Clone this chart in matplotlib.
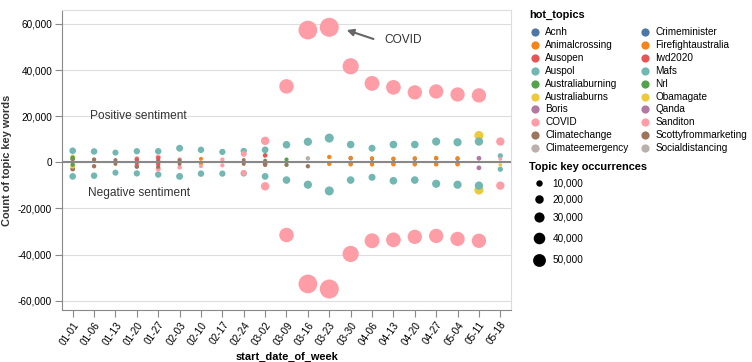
import numpy as np
import matplotlib.pyplot as plt

plt.rcParams['font.family'] = ['Liberation Sans', 'DejaVu Sans']

N = np.nan

weeks = ['01-01', '01-06', '01-13', '01-20', '01-27', '02-03', '02-10', '02-17', '02-24', '03-02',
         '03-09', '03-16', '03-23', '03-30', '04-06', '04-13', '04-20', '04-27', '05-04', '05-11', '05-18']

topics = ['Acnh', 'Animalcrossing', 'Ausopen', 'Auspol', 'Australiaburning', 'Australiaburns', 'Boris',
          'COVID', 'Climatechange', 'Climateemergency', 'Crimeminister', 'Firefightaustralia', 'Iwd2020',
          'Mafs', 'Nrl', 'Obamagate', 'Qanda', 'Sanditon', 'Scottyfrommarketing', 'Socialdistancing']

palette = ['#4c78a8', '#f58518', '#e45756', '#72b7b2', '#54a24b',
           '#eeca3b', '#b279a2', '#ff9da6', '#9d755d', '#bab0ac']

# positive / negative counts per week for each topic (NaN = no tweets that week)
acnh_pos = [N] * 13 + [1700, 1500, 1400, 1500, 1700, 1500, N, N]
acnh_neg = [N] * 13 + [-700, -700, -700, -700, -700, -700, N, N]
animalcrossing_pos = [N] * 12 + [2300, 1900, 1750, 1600, 1750, 1900, 1750, N, N]
animalcrossing_neg = [N] * 12 + [-700, -900, -900, -900, -900, -900, -900, N, N]
ausopen_pos = [N] * 3 + [1200, 1900] + [N] * 16
ausopen_neg = [N] * 3 + [-600, -700] + [N] * 16
auspol_pos = [5000, 4700, 4200, 4800, 4800, 6100, 5400, 4500, 4900, 5400, 7600,
              8900, 10500, 7700, 6100, 7700, 7700, 9000, 8700, 9000, 2800]
auspol_neg = [-6100, -5800, -4500, -4800, -5300, -6100, -4900, -4900, -4800, -6100, -7700,
              -9700, -12400, -7700, -6500, -8000, -7700, -9300, -9700, -10100, -3000]
australiaburning_pos = [2000] + [N] * 20
australiaburning_neg = [-1000] + [N] * 20
australiaburns_pos = [2300] + [N] * 20
australiaburns_neg = [-1700] + [N] * 20
boris_pos = [N] * 19 + [1750, N]
boris_neg = [N] * 19 + [-2400, N]
covid_pos = [N] * 9 + [9300, 32900, 57300, 58500, 41600, 34200, 32500, 30300, 30700, 29400, 29000, 9000]
covid_neg = [N] * 9 + [-10400, -31500, -52700, -54900, -39700, -34000, -33600, -32300, -31900,
                       -33200, -34000, -10100]
climatechange_pos = [1500, 1200, 1000, 1200, 800, 900, N, N, 1000, 700] + [N] * 11
climatechange_neg = [-2900, -1700, -700, -1900, -1900, -700, N, N, -700, -1200, -1100, -1700] + [N] * 9
climateemergency_pos = [N] * 21
climateemergency_neg = [N] * 21
crimeminister_pos = [N] * 21
crimeminister_neg = [N] * 21
firefightaustralia_pos = [N] * 6 + [1500] + [N] * 14
firefightaustralia_neg = [N] * 6 + [-500] + [N] * 14
iwd2020_pos = [N] * 9 + [3000] + [N] * 11
iwd2020_neg = [N] * 9 + [-800] + [N] * 11
mafs_pos = [N] * 21
mafs_neg = [N] * 21
nrl_pos = [N] * 10 + [1200] + [N] * 10
nrl_neg = [N] * 10 + [-1100] + [N] * 10
obamagate_pos = [N] * 19 + [11600, N]
obamagate_neg = [N] * 19 + [-12000, -1100]
qanda_pos = [N] * 21
qanda_neg = [N] * 21
sanditon_pos = [N, N, N, 1700, 2300, 1200, N, 1200, 3650] + [N] * 11 + [1500]
sanditon_neg = [N, N, N, -1700, -2900, -2200, -1700, -1300, -4600] + [N] * 12
scottyfrommarketing_pos = [N] * 21
scottyfrommarketing_neg = [N] * 21
socialdistancing_pos = [N] * 11 + [1700] + [N] * 9
socialdistancing_neg = [N] * 11 + [-1700] + [N] * 9

pos_lists = [acnh_pos, animalcrossing_pos, ausopen_pos, auspol_pos, australiaburning_pos,
             australiaburns_pos, boris_pos, covid_pos, climatechange_pos, climateemergency_pos,
             crimeminister_pos, firefightaustralia_pos, iwd2020_pos, mafs_pos, nrl_pos,
             obamagate_pos, qanda_pos, sanditon_pos, scottyfrommarketing_pos, socialdistancing_pos]
neg_lists = [acnh_neg, animalcrossing_neg, ausopen_neg, auspol_neg, australiaburning_neg,
             australiaburns_neg, boris_neg, covid_neg, climatechange_neg, climateemergency_neg,
             crimeminister_neg, firefightaustralia_neg, iwd2020_neg, mafs_neg, nrl_neg,
             obamagate_neg, qanda_neg, sanditon_neg, scottyfrommarketing_neg, socialdistancing_neg]

size_legend = [10000, 20000, 30000, 40000, 50000]
bottom_layer = ['Acnh']  # drawn underneath everything else


def marker_area(v):
    # diameter^2 in px grows linearly with occurrences, small floor; converted to pt^2
    return (10 + 3.1e-3 * np.asarray(v, dtype=float)) * 0.72 ** 2


# build the point table
pts = []
for i, name in enumerate(topics):
    pos = np.array(pos_lists[i], dtype=float)
    neg = np.array(neg_lists[i], dtype=float)
    total = np.nan_to_num(np.abs(pos)) + np.nan_to_num(np.abs(neg))
    for vals in (pos, neg):
        for w in range(len(weeks)):
            if not np.isnan(vals[w]):
                pts.append((name not in bottom_layer, -marker_area(total[w]),
                            w, vals[w], marker_area(total[w]), palette[i % 10]))
pts.sort(key=lambda p: (p[0], p[1]))
xs = [p[2] for p in pts]
ys = [p[3] for p in pts]
ss = [p[4] for p in pts]
cs = [p[5] for p in pts]

fig = plt.figure(figsize=(7.52, 3.62), dpi=100)
ax = fig.add_axes([62 / 752, 1 - 310 / 362, 449 / 752, 300 / 362])

ax.scatter(xs, ys, s=ss, c=cs, linewidths=0, zorder=3)
ax.axhline(0, color='#888888', lw=1.5, zorder=4)

ax.set_xlim(-0.5, len(weeks) - 0.5)
ax.set_ylim(-64000, 66000)
yt = np.arange(-60000, 60001, 20000)
ax.set_yticks(yt)
ax.set_yticklabels([f'{v:,}' for v in yt])
ax.set_xticks(np.arange(len(weeks)))
ax.set_xticklabels(weeks, rotation=55, ha='right', rotation_mode='anchor')
ax.grid(axis='y', color='#dddddd', lw=0.8, zorder=0)
ax.set_axisbelow(True)
for side in ['top', 'right']:
    ax.spines[side].set_color('#dddddd')
for side in ['left', 'bottom']:
    ax.spines[side].set_color('#888888')
ax.tick_params(length=5, color='#888888', labelsize=7.2, pad=2)

ax.set_ylabel('Count of topic key words', fontsize=7.9, fontweight='bold', color='#333333')
ax.yaxis.set_label_coords(-0.111, 0.5)
ax.set_xlabel('start_date_of_week', fontsize=7.9, fontweight='bold', color='#000000')
ax.xaxis.set_label_coords(0.5, -0.14)

ax.text(0.83, 20000, 'Positive sentiment', fontsize=8.6, color='#333333', va='center')
ax.text(0.70, -13400, 'Negative sentiment', fontsize=8.6, color='#333333', va='center')
ax.annotate('', xy=(12.69, 57700), xytext=(14.19, 53060),
            arrowprops=dict(arrowstyle='-|>', color='#666666', lw=1.5, mutation_scale=10))
ax.text(14.56, 52930, 'COVID', fontsize=8.6, color='#333333', va='center')

# legends in pixel coordinates
lax = fig.add_axes([0, 0, 1, 1])
lax.set_xlim(0, 752)
lax.set_ylim(362, 0)
lax.axis('off')

lax.text(529, 15, 'hot_topics', fontsize=7.9, fontweight='bold', va='center')
for i, name in enumerate(topics):
    col, row = divmod(i, 10)
    sx = 534.7 + col * 110.3
    sy = 31.7 + row * 12.96
    lax.scatter([sx], [sy], s=35, color=palette[i % 10], linewidths=0)
    lax.text(sx + 10.3, sy, name, fontsize=7.2, va='center')

lax.text(529, 167.3, 'Topic key occurrences', fontsize=7.9, fontweight='bold', va='center')
leg_y = [183.3, 199, 217.3, 238.3, 260]
for v, yy in zip(size_legend, leg_y):
    lax.scatter([539], [yy], s=marker_area(v), color='black', linewidths=0)
    lax.text(552.7, yy, f'{v:,}', fontsize=7.2, va='center')

fig.savefig('out.png', dpi=100)
